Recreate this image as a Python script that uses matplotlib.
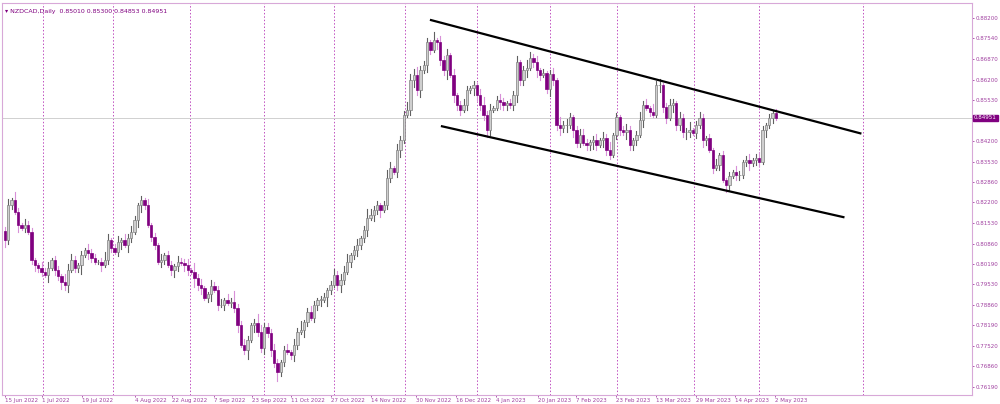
import numpy as np
import matplotlib.pyplot as plt

# closes (NZDCAD daily)
closes = [0.8097,0.8211,0.8227,0.8188,0.8146,0.8136,0.8146,0.8123,0.8032,0.8016,
          0.8006,0.7993,0.7983,0.8006,0.8032,0.7999,0.7980,0.7960,0.7950,0.7999,
          0.8032,0.8006,0.8016,0.8048,0.8065,0.8055,0.8039,0.8025,0.8025,0.8016,
          0.8032,0.8097,0.8071,0.8058,0.8090,0.8097,0.8081,0.8104,0.8123,0.8162,
          0.8211,0.8227,0.8211,0.8146,0.8107,0.8081,0.8025,0.8032,0.8048,0.8016,
          0.7999,0.8012,0.8025,0.8022,0.8016,0.7999,0.7993,0.7973,0.7950,0.7941,
          0.7908,0.7921,0.7947,0.7934,0.7885,0.7885,0.7902,0.7892,0.7895,0.7876,
          0.7820,0.7755,0.7739,0.7772,0.7820,0.7827,0.7798,0.7746,0.7814,0.7794,
          0.7739,0.7697,0.7667,0.7700,0.7739,0.7733,0.7723,0.7755,0.7798,0.7804,
          0.7830,0.7863,0.7843,0.7885,0.7902,0.7902,0.7911,0.7934,0.7950,0.7983,
          0.7950,0.7967,0.7993,0.8025,0.8048,0.8065,0.8081,0.8104,0.8130,0.8169,
          0.8179,0.8195,0.8211,0.8195,0.8211,0.8299,0.8331,0.8318,0.8390,0.8422,
          0.8504,0.8520,0.8618,0.8634,0.8585,0.8650,0.8667,0.8742,0.8716,0.8748,
          0.8742,0.8683,0.8650,0.8699,0.8634,0.8569,0.8536,0.8520,0.8536,0.8585,
          0.8592,0.8602,0.8569,0.8536,0.8504,0.8455,0.8520,0.8527,0.8553,0.8546,
          0.8536,0.8543,0.8536,0.8569,0.8676,0.8618,0.8650,0.8657,0.8690,0.8676,
          0.8650,0.8634,0.8641,0.8589,0.8638,0.8618,0.8471,0.8462,0.8471,0.8471,
          0.8497,0.8455,0.8413,0.8439,0.8413,0.8406,0.8416,0.8422,0.8406,0.8422,
          0.8429,0.8390,0.8374,0.8439,0.8497,0.8455,0.8448,0.8455,0.8406,0.8422,
          0.8439,0.8488,0.8536,0.8527,0.8514,0.8504,0.8602,0.8602,0.8530,0.8494,
          0.8536,0.8543,0.8471,0.8494,0.8448,0.8448,0.8455,0.8445,0.8471,0.8494,
          0.8422,0.8429,0.8390,0.8331,0.8341,0.8374,0.8292,0.8276,0.8305,0.8318,
          0.8308,0.8308,0.8351,0.8357,0.8347,0.8357,0.8364,0.8351,0.8455,0.8471,
          0.8494,0.8510,0.8495]
# wick lengths, one digit per bar, in units of 0.0007 (24 blocks of 10 bars)
wick_up = "".join(["2314213221", "1323122143", "3212132212", "4312313232",
                   "1213121312", "2132231423", "1132231325", "2232124322",
                   "2321231324", "1232122123", "2334123124", "3221243132",
                   "2433422214", "1323131232", "1213423123", "2122312432",
                   "3121231423", "2123321231", "3241212321", "2423142312",
                   "3213224123", "2121312121", "3212312321", "2122321312"])
wick_dn = "".join(["3221312123", "2213122323", "1224132113", "1221231321",
                   "3321221221", "2321321423", "1231212122", "3124132232",
                   "3242212321", "3212231421", "2321223223", "1323122123",
                   "1123231321", "3224132212", "1322232113", "2212322312",
                   "3212322323", "1322122321", "3221221322", "2131211322",
                   "1322232121", "3212121321", "2212312213", "1212312121"])

last_price = 0.84951
upper_line = ([128.2, 257.4], [0.8814, 0.8445])
lower_line = ([131.5, 252.3], [0.8468, 0.8172])

y_ticks = [0.88200, 0.87540, 0.86870, 0.86200, 0.85530, 0.84200, 0.83530, 0.82860,
           0.82200, 0.81530, 0.80860, 0.80190, 0.79530, 0.78860, 0.78190, 0.77520,
           0.76860, 0.76190]
date_idx = [0, 11.1, 23.1, 39, 50.2, 62.8, 74.2, 86.2, 98.2, 110.2, 123.7, 135.7,
            147.7, 160.3, 171.8, 183.8, 195.8, 207.8, 219.8, 231.8]
date_labels = ["15 Jun 2022", "1 Jul 2022", "19 Jul 2022", "4 Aug 2022", "22 Aug 2022",
               "7 Sep 2022", "23 Sep 2022", "11 Oct 2022", "27 Oct 2022", "14 Nov 2022",
               "30 Nov 2022", "16 Dec 2022", "4 Jan 2023", "20 Jan 2023", "7 Feb 2023",
               "23 Feb 2023", "13 Mar 2023", "29 Mar 2023", "14 Apr 2023", "2 May 2023"]
month_idx = [11.4, 32.4, 55.6, 77.8, 99.1, 120.4, 142.0, 164.0, 184.1, 207.2, 227.0, 258.3]

purple = '#800080'
fig = plt.figure(figsize=(10, 4.04), dpi=100)
ax = fig.add_axes([0.002, 0.022, 0.970, 0.970])

opens = [closes[0] + 0.0030] + closes[:-1]
for i, (o, c) in enumerate(zip(opens, closes)):
    hi = max(o, c) + int(wick_up[i]) * 0.0007
    lo = min(o, c) - int(wick_dn[i]) * 0.0007
    bear = c < o
    wc = '#d890d8' if bear else '#606060'
    ax.plot([i, i], [lo, hi], color=wc, lw=0.8, zorder=2)
    body = max(abs(c - o), 0.0002)
    ax.add_patch(plt.Rectangle((i - 0.35, min(o, c)), 0.7, body,
                               facecolor=purple if bear else '#cfcfcf',
                               edgecolor=purple if bear else '#808080', lw=0.5, zorder=3))

for m in month_idx:
    ax.axvline(m, color='#c050c0', lw=0.7, ls=(0, (1.5, 2)), zorder=1)
ax.axhline(last_price, color='#d0d0d0', lw=0.7, zorder=1)
ax.plot(*upper_line, color='black', lw=1.6, zorder=4)
ax.plot(*lower_line, color='black', lw=1.6, zorder=4)

ax.set_xlim(-0.9, 291.0)
ax.set_ylim(0.75921, 0.88689)
ax.yaxis.tick_right()
ax.set_yticks(y_ticks)
ax.set_yticklabels([f"{v:.5f}" for v in y_ticks])
ax.set_xticks(date_idx)
ax.set_xticklabels(date_labels, ha='left')
ax.tick_params(axis='both', colors='#a040a0', labelsize=4.0, length=1.5, width=0.6, pad=0.8)
for s in ax.spines.values():
    s.set_color('#d8a8d8')
ax.text(1.002, last_price, "0.84951", transform=ax.get_yaxis_transform(), fontsize=4.0,
        color='white', va='center', ha='left',
        bbox=dict(boxstyle='square,pad=0.15', fc=purple, ec=purple))
ax.text(0.003, 0.985, "\u25be NZDCAD,Daily  0.85010 0.85300 0.84853 0.84951", transform=ax.transAxes,
        fontsize=4.5, color=purple, va='top', ha='left')

fig.savefig('out.png', dpi=100)
